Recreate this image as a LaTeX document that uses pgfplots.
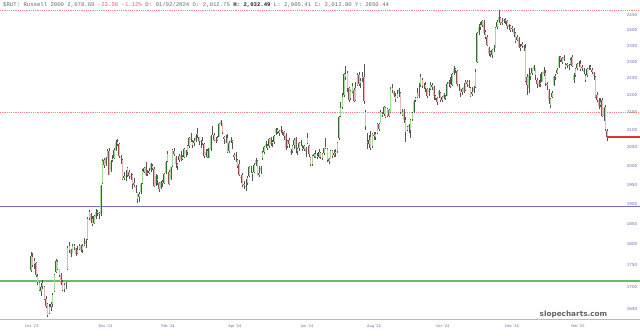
\documentclass[border=0pt]{standalone}
\usepackage{fontspec}
\setmainfont{DejaVu Sans}
\newfontfamily\hdr{Liberation Mono}
\usepackage{pgfplots}
\pgfplotsset{compat=1.18}
\usepackage{pgfplotstable}
\definecolor{upfill}{RGB}{160,222,150}
\definecolor{upline}{RGB}{55,105,55}
\definecolor{dnfill}{RGB}{236,182,182}
\definecolor{dnline}{RGB}{145,80,80}
\definecolor{wick}{RGB}{85,85,85}
\definecolor{dashred}{RGB}{240,135,135}
\definecolor{lvlblue}{RGB}{110,110,210}
\definecolor{lvlgreen}{RGB}{100,190,100}
\definecolor{lvlred}{RGB}{220,50,50}
\definecolor{ticklab}{RGB}{100,100,170}
\definecolor{hdrred}{RGB}{225,95,95}

\pgfplotstableread{
k o h l c
0 1738 1782 1735 1772
1 1770 1778 1745 1750
2 1752 1768 1740 1760
3 1755 1758 1722 1726
4 1724 1730 1705 1710
5 1708 1712 1690 1693
6 1690 1708 1678 1700
7 1702 1715 1695 1708
8 1700 1702 1670 1672
9 1672 1678 1652 1656
10 1660 1664 1633 1637
11 1642 1660 1638 1655
12 1655 1665 1645 1662
13 1662 1685 1655 1682
14 1690 1730 1688 1728
15 1735 1765 1732 1760
16 1758 1762 1738 1742
17 1740 1742 1722 1728
18 1726 1732 1705 1708
19 1710 1715 1690 1693
20 1695 1708 1688 1705
21 1702 1712 1695 1702
22 1740 1795 1738 1790
23 1795 1805 1780 1786
24 1785 1788 1770 1776
25 1780 1800 1778 1797
26 1795 1800 1785 1793
27 1790 1792 1772 1776
28 1778 1795 1776 1787
29 1788 1800 1786 1796
30 1795 1798 1782 1785
31 1785 1800 1780 1796
32 1800 1815 1795 1799
33 1800 1812 1792 1809
34 1812 1866 1810 1863
35 1865 1885 1860 1880
36 1875 1878 1852 1858
37 1862 1870 1845 1849
38 1852 1872 1850 1869
39 1868 1888 1862 1881
40 1880 1885 1870 1878
41 1878 1880 1862 1876
42 1875 1950 1870 1946
43 1955 2018 1952 2012
44 2015 2022 1995 2003
45 2005 2025 2000 2020
46 2022 2045 2020 2040
47 2040 2048 1975 1977
48 1990 2015 1985 2010
49 2015 2030 2010 2018
50 2020 2048 2018 2042
51 2043 2072 2040 2066
52 2066 2074 2055 2060
53 2060 2062 2020 2027
54 2025 2030 2005 2022
55 2015 2018 1962 1966
56 1968 1985 1962 1972
57 1972 1990 1960 1973
58 1975 1998 1970 1995
59 1985 1990 1965 1973
60 1972 1980 1962 1970
61 1975 1978 1938 1951
62 1955 1968 1945 1950
63 1945 1950 1928 1941
64 1930 1932 1902 1913
65 1918 1930 1905 1926
66 1930 1955 1925 1951
67 1955 1992 1953 1987
68 1985 1998 1980 1994
69 1998 2010 1972 1975
70 1980 1990 1972 1981
71 1980 1995 1978 1987
72 1988 2008 1985 2006
73 2000 2005 1990 1994
74 1992 1998 1945 1947
75 1950 1978 1948 1973
76 1965 1975 1950 1962
77 1955 1958 1932 1940
78 1942 1960 1940 1957
79 1958 1962 1945 1954
80 1955 1980 1953 1978
81 1980 2012 1978 2010
82 2012 2040 2010 2033
83 1985 1990 1950 1953
84 1965 1998 1962 1997
85 2000 2045 1998 2042
86 2040 2050 2028 2032
87 2025 2028 1995 2004
88 2000 2008 1990 2004
89 2015 2032 2010 2028
90 2030 2040 2012 2017
91 2018 2030 2015 2023
92 2025 2048 2022 2045
93 2040 2042 2025 2034
94 2038 2058 2030 2054
95 2055 2078 2050 2076
96 2078 2090 2065 2070
97 2065 2072 2048 2058
98 2062 2075 2055 2068
99 2070 2088 2065 2083
100 2088 2105 2075 2084
101 2078 2080 2058 2067
102 2068 2072 2050 2064
103 2062 2078 2058 2068
104 2060 2062 2020 2028
105 2030 2045 2025 2039
106 2040 2045 2020 2025
107 2022 2050 2020 2048
108 2045 2085 2040 2083
109 2090 2110 2085 2090
110 2085 2090 2068 2072
111 2070 2078 2062 2069
112 2075 2082 2068 2072
113 2080 2118 2078 2115
114 2115 2128 2110 2125
115 2118 2120 2088 2093
116 2080 2082 2060 2073
117 2068 2085 2062 2067
118 2075 2088 2035 2038
119 2040 2068 2035 2062
120 2065 2078 2062 2070
121 2068 2072 2045 2064
122 2030 2035 2015 2025
123 2028 2038 2010 2030
124 2015 2018 1995 1999
125 2005 2015 1972 1975
126 1970 1975 1955 1968
127 1975 1980 1945 1949
128 1952 1960 1940 1951
129 1945 1965 1935 1948
130 1955 1972 1950 1968
131 1972 2000 1970 1997
132 1995 2000 1982 1995
133 1980 1985 1960 1981
134 1985 2008 1982 2002
135 2005 2020 2000 2017
136 2012 2015 1972 1974
137 1975 2000 1970 1980
138 1990 2000 1978 1995
139 2020 2040 2015 2035
140 2038 2055 2032 2052
141 2055 2068 2050 2059
142 2050 2060 2042 2054
143 2055 2075 2050 2073
144 2075 2080 2055 2060
145 2065 2072 2052 2062
146 2065 2085 2060 2083
147 2090 2105 2085 2102
148 2100 2105 2088 2092
149 2090 2098 2082 2095
150 2098 2110 2090 2097
151 2092 2100 2085 2095
152 2092 2095 2072 2081
153 2085 2090 2042 2049
154 2055 2072 2050 2069
155 2070 2075 2050 2059
156 2040 2045 2030 2036
157 2040 2058 2035 2054
158 2058 2075 2045 2070
159 2075 2078 2035 2050
160 2045 2048 2030 2040
161 2050 2065 2040 2063
162 2062 2070 2055 2065
163 2050 2058 2040 2048
164 2045 2058 2040 2054
165 2050 2052 2025 2037
166 2075 2090 2060 2063
167 2055 2058 2025 2031
168 2022 2025 2000 2006
169 2005 2030 2000 2027
170 2028 2035 2020 2031
171 2032 2042 2020 2025
172 2028 2035 2018 2023
173 2025 2045 2022 2039
174 2035 2038 2018 2023
175 2020 2035 2015 2033
176 2035 2050 2030 2049
177 2052 2075 2045 2048
178 2045 2048 2010 2017
179 2012 2022 2005 2019
180 2022 2042 2020 2041
181 2040 2042 2020 2026
182 2030 2042 2025 2035
183 2035 2045 2025 2037
184 2040 2065 2035 2063
185 2075 2140 2072 2136
186 2140 2180 2135 2161
187 2165 2205 2160 2194
188 2200 2265 2195 2263
189 2255 2288 2245 2264
190 2265 2272 2210 2222
191 2220 2225 2180 2184
192 2190 2215 2185 2211
193 2210 2235 2205 2226
194 2215 2220 2180 2183
195 2185 2240 2182 2222
196 2230 2265 2228 2261
197 2260 2268 2228 2233
198 2235 2250 2220 2243
199 2250 2270 2240 2254
200 2255 2295 2175 2181
201 2150 2155 2100 2109
202 2065 2090 2045 2062
203 2060 2085 2050 2072
204 2080 2095 2042 2050
205 2055 2090 2050 2087
206 2085 2092 2070 2084
207 2088 2092 2070 2080
208 2090 2118 2088 2116
209 2115 2120 2095 2103
210 2120 2155 2118 2150
211 2145 2150 2135 2142
212 2145 2168 2140 2164
213 2162 2165 2132 2137
214 2140 2162 2135 2158
215 2155 2160 2135 2139
216 2150 2225 2148 2218
217 2220 2232 2205 2214
218 2208 2212 2195 2199
219 2198 2205 2180 2189
220 2195 2215 2190 2203
221 2205 2222 2195 2218
222 2205 2208 2145 2150
223 2142 2160 2138 2150
224 2152 2158 2120 2128
225 2128 2135 2065 2092
226 2098 2110 2095 2106
227 2108 2115 2090 2112
228 2100 2130 2075 2128
229 2130 2150 2125 2146
230 2150 2185 2148 2183
231 2185 2195 2180 2190
232 2195 2220 2192 2205
233 2205 2235 2190 2197
234 2230 2262 2225 2253
235 2245 2250 2222 2228
236 2230 2235 2218 2228
237 2230 2238 2210 2221
238 2218 2222 2192 2196
239 2210 2222 2198 2214
240 2218 2240 2215 2229
241 2225 2235 2215 2230
242 2225 2228 2185 2197
243 2192 2200 2185 2196
244 2190 2195 2172 2179
245 2200 2215 2192 2212
246 2205 2210 2180 2184
247 2185 2198 2178 2193
248 2195 2205 2188 2201
249 2195 2200 2185 2193
250 2198 2238 2196 2234
251 2238 2245 2225 2233
252 2232 2255 2222 2227
253 2230 2265 2228 2264
254 2265 2288 2260 2277
255 2278 2282 2265 2276
256 2272 2275 2228 2233
257 2225 2232 2212 2226
258 2220 2222 2195 2207
259 2210 2220 2200 2218
260 2225 2235 2205 2208
261 2215 2245 2212 2240
262 2238 2245 2225 2233
263 2230 2245 2222 2229
264 2222 2225 2195 2196
265 2202 2225 2198 2210
266 2212 2228 2205 2222
267 2225 2278 2222 2270
268 2300 2395 2298 2392
269 2395 2420 2385 2412
270 2410 2428 2402 2418
271 2418 2434 2410 2430
272 2428 2432 2385 2392
273 2395 2400 2372 2378
274 2380 2385 2350 2353
275 2345 2348 2318 2325
276 2325 2335 2315 2330
277 2322 2340 2312 2336
278 2340 2352 2330 2345
279 2345 2412 2342 2408
280 2410 2432 2405 2428
281 2430 2466 2425 2442
282 2440 2442 2418 2425
283 2425 2440 2418 2427
284 2430 2438 2425 2434
285 2435 2440 2422 2432
286 2430 2432 2405 2413
287 2412 2420 2400 2417
288 2415 2418 2395 2401
289 2405 2415 2395 2409
290 2405 2408 2380 2389
291 2390 2395 2360 2366
292 2370 2385 2365 2378
293 2375 2378 2342 2346
294 2348 2355 2335 2346
295 2350 2362 2342 2356
296 2350 2352 2335 2346
297 2345 2355 2240 2243
298 2255 2262 2200 2230
299 2220 2280 2205 2260
300 2258 2265 2245 2262
301 2265 2282 2260 2281
302 2278 2290 2272 2286
303 2280 2282 2245 2261
304 2245 2250 2222 2232
305 2238 2245 2225 2230
306 2235 2262 2225 2236
307 2240 2270 2238 2268
308 2272 2285 2258 2264
309 2265 2275 2228 2236
310 2232 2238 2215 2230
311 2215 2218 2175 2184
312 2170 2192 2162 2189
313 2195 2212 2190 2206
314 2230 2258 2228 2256
315 2258 2262 2245 2257
316 2265 2282 2262 2275
317 2285 2318 2282 2314
318 2315 2318 2300 2305
319 2300 2315 2295 2313
320 2315 2320 2302 2307
321 2285 2298 2278 2290
322 2292 2298 2280 2294
323 2292 2295 2275 2287
324 2295 2312 2292 2307
325 2315 2320 2285 2287
326 2245 2265 2235 2259
327 2260 2282 2255 2279
328 2280 2298 2275 2295
329 2298 2302 2285 2293
330 2295 2305 2272 2279
331 2285 2290 2272 2281
332 2270 2280 2262 2274
333 2245 2262 2240 2256
334 2260 2282 2255 2279
335 2282 2290 2275 2280
336 2285 2292 2275 2281
337 2275 2280 2262 2268
338 2265 2268 2245 2256
339 2255 2258 2190 2194
340 2200 2208 2180 2185
341 2182 2190 2160 2168
342 2172 2192 2165 2180
343 2185 2192 2135 2138
344 2140 2165 2125 2163
345 2165 2170 2095 2102
346 2095 2102 2068 2079
}\rut

\pgfplotsset{
  upbody/.style={draw=upline, double=upfill, double distance=0.95pt, line width=0.3pt},
  dnbody/.style={draw=dnline, double=dnfill, double distance=0.95pt, line width=0.3pt},
}

\begin{document}
\begin{tikzpicture}
\useasboundingbox (0pt,0pt) rectangle (640pt,335pt);
\begin{axis}[
  at={(0pt,16pt)}, anchor=south west,
  scale only axis, width=640pt, height=319pt,
  xmin=-18.619, xmax=365.766,
  ymode=log, ymin=1628, ymax=2500,
  axis line style={draw=none},
  tick style={draw=none}, major tick length=0pt,
  xtick={0.6,44.8,82.3,122.5,165.8,206,247.4,288.9,328.5},
  xticklabels={Oct '23,Dec '23,Feb '24,Apr '24,Jun '24,Aug '24,Oct '24,Dec '24,Feb '25},
  xticklabel style={font=\fontsize{3.6}{4}\selectfont, text=ticklab, anchor=center, yshift=-7.5pt},
  ytick={1650,1700,1750,1800,1850,1900,1950,2000,2050,2100,2150,2200,2250,2300,2350,2400,2450},
  yticklabels={1650,1700,1750,1800,1850,1900,1950,2000,2050,2100,2150,2200,2250,2300,2350,2400,2450},
  yticklabel pos=right,
  yticklabel style={font=\fontsize{4}{4}\selectfont, text=ticklab, anchor=center, xshift=-8pt},
  minor tick num=0,
]
% level lines
\addplot[dashred, line width=0.6pt, dash pattern=on 1.2pt off 1pt, forget plot] coordinates {(-18.619,2466.49) (365.766,2466.49)};
\addplot[dashred, line width=0.6pt, dash pattern=on 1.2pt off 1pt, forget plot] coordinates {(-18.619,2148) (365.766,2148)};
\addplot[lvlblue, line width=1.6pt, forget plot] coordinates {(-18.619,1894) (365.766,1894)};
\addplot[lvlgreen, line width=1.4pt, forget plot] coordinates {(-18.619,1713) (365.766,1713)};
% candles: one wick and one body per row of the table
\pgfplotsforeachungrouped \i in {0,...,346}{%
  \pgfplotstablegetelem{\i}{o}\of\rut \let\vo\pgfplotsretval
  \pgfplotstablegetelem{\i}{h}\of\rut \let\vh\pgfplotsretval
  \pgfplotstablegetelem{\i}{l}\of\rut \let\vl\pgfplotsretval
  \pgfplotstablegetelem{\i}{c}\of\rut \let\vc\pgfplotsretval
  \ifdim\vc pt<\vo pt \def\bsty{dnbody}\else\def\bsty{upbody}\fi
  \edef\tmp{%
    \noexpand\addplot[wick, line width=0.45pt, forget plot] coordinates {(\i,\vl) (\i,\vh)};%
    \noexpand\addplot[\bsty, forget plot] coordinates {(\i,\vo) (\i,\vc)};%
  }\tmp
}
% last price line
\addplot[lvlred, line width=1.5pt, forget plot] coordinates {(346,2078.69) (365.766,2078.69)};
\end{axis}
\draw[gray!55, line width=0.9pt] (0pt,15.5pt) -- (640pt,15.5pt);
\node[anchor=west, inner sep=0pt, font=\hdr\fontsize{5.64}{6}\selectfont, text=black!60] at (3pt,330.5pt)
  {\$RUT: Russell 2000 2,078.69 \textcolor{hdrred}{-23.56 -1.12\%} D: 01/02/2024 O: 2,012.75 \textcolor{black!85}{\bfseries H: 2,032.49} L: 2,005.41 C: 2,012.80 Y: 2650.44};
\node[inner sep=0pt, font=\bfseries\fontsize{7.3}{8}\selectfont, text=black!62] at (573.5pt,20.5pt) {slopecharts.com};
\end{tikzpicture}
\end{document}
